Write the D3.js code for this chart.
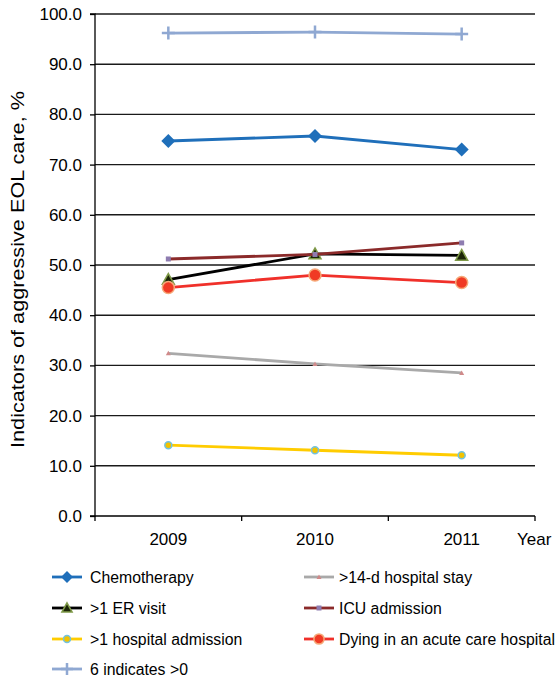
<!DOCTYPE html>
<html>
<head>
<meta charset="utf-8">
<script src="https://cdn.jsdelivr.net/npm/d3@7"></script>
<style>
  html, body { margin: 0; padding: 0; background: #fff; }
  svg { display: block; font-family: "Liberation Sans", Arial, Helvetica, sans-serif; }
</style>
</head>
<body>
<svg id="chart" width="558" height="678"></svg>
<script>
// Years on the category axis
const years = ["2009", "2010", "2011"];

// Y axis ticks (percent)
const yTicks = [0, 10, 20, 30, 40, 50, 60, 70, 80, 90, 100];

// Series names, in plotting / legend order
const seriesNames = [
  "Chemotherapy",
  ">14-d hospital stay",
  ">1 ER visit",
  "ICU admission",
  ">1 hospital admission",
  "Dying in an acute care hospital",
  "6 indicates >0"
];

// Values per series, one per year
const chemotherapy = [74.7, 75.7, 73.0];
const hospitalStay14d = [32.4, 30.3, 28.5];
const erVisit = [47.1, 52.2, 51.9];
const icuAdmission = [51.2, 52.1, 54.4];
const hospitalAdmission = [14.1, 13.1, 12.1];
const dyingAcuteCare = [45.5, 48.0, 46.5];
const sixIndicators = [96.2, 96.4, 96.0];

const seriesValues = [
  chemotherapy, hospitalStay14d, erVisit, icuAdmission,
  hospitalAdmission, dyingAcuteCare, sixIndicators
];

// Visual style for each series
const styles = [
  { line: "#1f6fba", marker: "diamond",  size: 14, fill: "#1f6fba", stroke: "none", sw: 0 },
  { line: "#a9a9a9", marker: "triangle", size: 5,  fill: "#d08a8a", stroke: "none", sw: 0 },
  { line: "#000000", marker: "triangle", size: 12, fill: "#1c2608", stroke: "#7f9a48", sw: 1.5 },
  { line: "#8b2a2a", marker: "square",   size: 5,  fill: "#8e7cb0", stroke: "none", sw: 0 },
  { line: "#ffcc00", marker: "circle",   size: 7,  fill: "#f2c200", stroke: "#72c2e0", sw: 1.5 },
  { line: "#f0302a", marker: "circle",   size: 12, fill: "#f03a24", stroke: "#f6a878", sw: 1.5 },
  { line: "#8fa8d2", marker: "plus",     size: 13, fill: "none", stroke: "#8fa8d2", sw: 2.5 }
];

const svg = d3.select("#chart");

const plot = { left: 95, right: 535, top: 14, bottom: 516 };

const x = d3.scaleBand().domain(years).range([plot.left, plot.right]).padding(0);
const y = d3.scaleLinear().domain([0, 100]).range([plot.bottom, plot.top]);

// Horizontal gridlines
svg.append("g")
  .selectAll("line")
  .data(yTicks.filter(d => d > 0))
  .join("line")
  .attr("x1", plot.left).attr("x2", plot.right)
  .attr("y1", d => y(d)).attr("y2", d => y(d))
  .attr("stroke", "#1a1a1a").attr("stroke-width", 1.4);

// Y axis
const yAxis = svg.append("g")
  .attr("transform", `translate(${plot.left},0)`)
  .call(d3.axisLeft(y).tickValues(yTicks).tickFormat(d3.format(".1f")).tickSize(5).tickPadding(8));
yAxis.select(".domain").attr("stroke", "#000").attr("stroke-width", 1.3).attr("d", `M-5,${plot.top}H0V${plot.bottom}H-5`);
yAxis.selectAll(".tick line").attr("stroke", "#000").attr("stroke-width", 1.3);
yAxis.selectAll(".tick text").attr("font-size", 17).attr("fill", "#000")
  .attr("font-family", "Liberation Sans, Arial, sans-serif");

// X axis: ticks sit on the category boundaries
const xBoundaries = years.map(d => x(d)).concat([x.range()[1]]);
const xAxisG = svg.append("g").attr("transform", `translate(0,${plot.bottom})`);
xAxisG.append("line")
  .attr("x1", plot.left).attr("x2", plot.right)
  .attr("stroke", "#000").attr("stroke-width", 1.3);
xAxisG.selectAll("line.tk")
  .data(xBoundaries)
  .join("line").attr("class", "tk")
  .attr("x1", d => d).attr("x2", d => d)
  .attr("y1", 0).attr("y2", 5)
  .attr("stroke", "#000").attr("stroke-width", 1.3);
xAxisG.selectAll("text.lbl")
  .data(years)
  .join("text").attr("class", "lbl")
  .attr("x", d => x(d) + x.bandwidth() / 2)
  .attr("y", 29)
  .attr("text-anchor", "middle")
  .attr("font-size", 17)
  .text(d => d);
xAxisG.append("text")
  .attr("x", 517).attr("y", 29)
  .attr("font-size", 17)
  .text("Year");

// Y axis title
svg.append("text")
  .attr("transform", `translate(23.5,${(90 + 449) / 2}) rotate(-90)`)
  .attr("text-anchor", "middle")
  .attr("font-size", 17.5)
  .attr("textLength", 357)
  .attr("lengthAdjust", "spacingAndGlyphs")
  .text("Indicators of aggressive EOL care, %");

// Marker path builder
function markerPath(type, s) {
  const h = s / 2;
  switch (type) {
    case "diamond": return `M0,${-h}L${h},0L0,${h}L${-h},0Z`;
    case "triangle": return `M0,${-h}L${h},${h * 0.8}L${-h},${h * 0.8}Z`;
    case "square": return `M${-h},${-h}H${h}V${h}H${-h}Z`;
    case "plus": return `M${-h},0H${h}M0,${-h}V${h}`;
    case "circle": return d3.symbol(d3.symbolCircle, Math.PI * h * h)();
  }
}

const lineGen = d3.line()
  .x((d, i) => x(years[i]) + x.bandwidth() / 2)
  .y(d => y(d));

function drawMarkers(g, st, pts) {
  g.selectAll("path.mk")
    .data(pts)
    .join("path").attr("class", "mk")
    .attr("transform", d => `translate(${d[0]},${d[1]})`)
    .attr("d", markerPath(st.marker, st.size))
    .attr("fill", st.fill)
    .attr("stroke", st.stroke)
    .attr("stroke-width", st.sw);
}

// Series lines and markers
seriesValues.forEach((vals, si) => {
  const st = styles[si];
  const g = svg.append("g").attr("class", "series");
  g.append("path")
    .attr("d", lineGen(vals))
    .attr("fill", "none")
    .attr("stroke", st.line)
    .attr("stroke-width", 2.8);
  const pts = vals.map((v, i) => [x(years[i]) + x.bandwidth() / 2, y(v)]);
  drawMarkers(g, st, pts);
});

// Legend, two columns filled row by row
const legendRows = [577, 608, 639, 669];
const legendCols = [{ line: 52, text: 90 }, { line: 304, text: 339 }];
const legend = svg.append("g").attr("class", "legend");
seriesNames.forEach((name, i) => {
  const st = styles[i];
  const col = legendCols[i % 2];
  const ly = legendRows[Math.floor(i / 2)];
  const g = legend.append("g");
  g.append("line")
    .attr("x1", col.line).attr("x2", col.line + 30)
    .attr("y1", ly).attr("y2", ly)
    .attr("stroke", st.line).attr("stroke-width", 2.8);
  const ms = Object.assign({}, st, { size: st.marker === "plus" ? 12 : Math.max(4, st.size * (st.size > 10 ? 0.85 : 1)) });
  drawMarkers(g, ms, [[col.line + 15, ly]]);
  g.append("text")
    .attr("x", col.text).attr("y", ly)
    .attr("dy", "0.36em")
    .attr("font-size", 15.8)
    .text(name);
});
</script>
</body>
</html>
